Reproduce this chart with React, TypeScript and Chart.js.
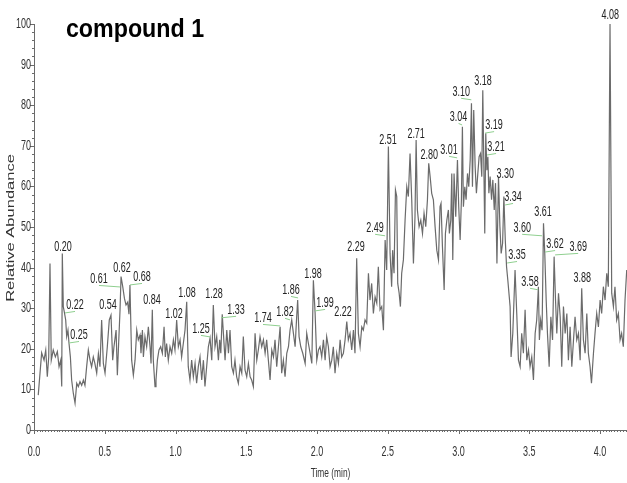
import React, { useEffect, useRef } from "react";
import { Chart, registerables } from "chart.js";

Chart.register(...registerables);

// ---- data (time in min, relative abundance in %) ----
const times = [
  0.03, 0.054, 0.071, 0.083, 0.094, 0.104, 0.113, 0.122, 0.136, 0.151, 0.165, 0.177, 0.189, 0.196, 0.2, 0.207, 0.214, 0.224, 0.231, 0.24,
  0.247, 0.257, 0.266, 0.278, 0.29, 0.302, 0.313, 0.325, 0.337, 0.349, 0.36, 0.372, 0.384, 0.396, 0.407, 0.419, 0.43, 0.443, 0.455, 0.466,
  0.478, 0.49, 0.502, 0.518, 0.532, 0.544, 0.556, 0.565, 0.58, 0.589, 0.598, 0.608, 0.615, 0.627, 0.639, 0.65, 0.662, 0.671,
  0.678, 0.69, 0.702, 0.714, 0.726, 0.737, 0.749, 0.756, 0.766, 0.773, 0.784, 0.796, 0.808, 0.82, 0.827, 0.836, 0.843, 0.855, 0.862, 0.872,
  0.883, 0.895, 0.907, 0.919, 0.928, 0.937, 0.949, 0.961, 0.973, 0.985, 0.996, 1.008, 1.02, 1.032, 1.043, 1.055, 1.067, 1.079, 1.09, 1.102,
  1.114, 1.126, 1.138, 1.149, 1.161, 1.173, 1.185, 1.197, 1.208, 1.22, 1.232, 1.244, 1.256, 1.267, 1.279, 1.291, 1.303, 1.312, 1.32, 1.33,
  1.35, 1.362, 1.374,
  1.385, 1.397, 1.409, 1.42, 1.432, 1.444, 1.456, 1.468, 1.479, 1.491, 1.503, 1.515, 1.527, 1.538, 1.55, 1.562, 1.574, 1.585, 1.597, 1.609,
  1.621, 1.633, 1.644, 1.656, 1.668, 1.68, 1.692, 1.703, 1.715, 1.727, 1.739, 1.75, 1.762, 1.774, 1.786, 1.798, 1.809, 1.821, 1.833, 1.845,
  1.856, 1.863, 1.873, 1.885, 1.899, 1.916, 1.927, 1.939, 1.951, 1.963, 1.974, 1.986, 1.998, 2.01, 2.021, 2.033, 2.045, 2.057, 2.068, 2.08,
  2.092, 2.104, 2.115, 2.127, 2.139, 2.151, 2.163, 2.174, 2.186, 2.198, 2.21, 2.221, 2.233, 2.245, 2.257, 2.268, 2.28, 2.292, 2.304, 2.316,
  2.327, 2.339, 2.351, 2.363, 2.374, 2.386, 2.398, 2.41, 2.422, 2.433, 2.445, 2.457, 2.469, 2.481, 2.492, 2.504, 2.516, 2.527, 2.534, 2.544,
  2.554, 2.563, 2.57, 2.58, 2.589, 2.598, 2.61, 2.622, 2.634, 2.645, 2.657, 2.669, 2.681, 2.692, 2.7, 2.709, 2.721, 2.733, 2.745, 2.756,
  2.768, 2.78, 2.789,
  2.799, 2.81, 2.822, 2.834, 2.846, 2.858, 2.869, 2.876, 2.886, 2.898, 2.907, 2.917, 2.928, 2.935, 2.945, 2.952, 2.959, 2.968, 2.98, 2.992,
  3.001, 3.011, 3.02, 3.027, 3.034, 3.044, 3.053, 3.063, 3.072, 3.082, 3.091, 3.098, 3.107, 3.117, 3.126, 3.136, 3.145, 3.155, 3.164, 3.171,
  3.178, 3.185, 3.192, 3.2, 3.207, 3.214, 3.223, 3.233, 3.242, 3.252, 3.261, 3.271, 3.282, 3.292, 3.301, 3.311, 3.32, 3.33, 3.339, 3.348,
  3.364, 3.371, 3.383, 3.399, 3.411, 3.423, 3.435, 3.446, 3.458, 3.47, 3.482, 3.494, 3.505, 3.517, 3.529, 3.541, 3.552, 3.564, 3.571, 3.58,
  3.59, 3.6, 3.609, 3.619, 3.628, 3.64, 3.652, 3.664, 3.675, 3.685, 3.694, 3.706, 3.718, 3.729, 3.741, 3.753, 3.765, 3.776, 3.788, 3.8,
  3.812, 3.823, 3.835, 3.847, 3.859, 3.87, 3.882, 3.894, 3.906, 3.917, 3.929, 3.939, 3.953, 3.964, 3.976, 3.988, 4.0, 4.011, 4.023, 4.035,
  4.047, 4.058, 4.07, 4.082, 4.094, 4.105, 4.117, 4.129, 4.141, 4.152, 4.164, 4.176, 4.188,
];

const abundance = [
  8.6, 19, 17.2, 19.7, 13.1, 18, 41, 17.2, 19.7, 18, 19.3, 15.6, 17.2, 10.7, 43.5, 30.4, 29.1, 27.1, 23, 24.6,
  21.5, 18, 12.3, 9, 6.6, 11.5, 10.7, 11.9, 11, 12.3, 11, 15.6, 19.7, 17.2, 15.6, 18, 16.4, 14, 18.8, 15.6,
  27.1, 16.4, 14, 20.5, 27.1, 28.3, 17.2, 20.5, 24.6, 13.5, 21.3, 29.6, 37.8, 35.3, 32.4, 30.8, 31.5, 28.5,
  35.7, 17.2, 13.5, 17.2, 24.6, 22.2, 23.4, 18.9, 24.6, 18, 23, 20.5, 25.4, 20.5, 16.4, 29.6, 17.2, 10.7, 12.3, 17.2,
  19.7, 20.5, 18.9, 25.4, 18, 21.3, 17.2, 20.5, 18.9, 22.2, 19.7, 27.1, 20.5, 22.2, 18, 21.3, 24.6, 31.6, 15.6, 12.3,
  17.2, 13.1, 16.4, 11.5, 15.6, 18, 12.3, 17.2, 10.7, 15.6, 20.5, 22.6, 17.2, 30.8, 20.5, 23, 17.2, 22.2, 18.9, 28.5,
  17.2, 24.6, 18.9,
  24.6, 15.6, 14, 17.2, 13.1, 11.5, 15.6, 14, 23, 14.8, 13.1, 16.4, 13.1, 12.3, 10.7, 23.8, 17.2, 19.7, 23, 20.5,
  22.2, 18.9, 22.2, 17.2, 12.3, 19.7, 18, 22.2, 15.6, 20.5, 25.4, 14, 17.2, 13.1, 18.9, 20.5, 24.6, 27.1, 23.8, 20.5,
  27.9, 32, 23, 20.5, 18.9, 16.4, 23.8, 21.3, 18.9, 16.4, 36.9, 29, 17.2, 19.7, 20.5, 18, 22.2, 17.2, 23, 20.5,
  15.6, 17.2, 20.5, 14, 18.9, 16.4, 22.2, 18, 18.9, 22.2, 26.7, 22.2, 23.8, 19.7, 24.6, 18.9, 42.3, 23.8, 20.5, 25.4,
  24.6, 27.1, 26.3, 38.6, 32, 36.1, 28.7, 32.8, 31.2, 40.2, 29.6, 30.4, 24.6, 46.8, 39.4, 69.8, 43.5, 35.3, 44.3, 38.6,
  59.1, 57.5, 36.1, 33.7, 30.4, 38.6, 41.9, 51.7, 59.9, 57.5, 68.1, 56.7, 41, 52.5, 71.4, 54.2, 50.1, 51.7, 48.4, 53.4,
  50.1, 56.7, 65.7,
  62.4, 58.3, 56.7, 50.1, 44.3, 41.9, 55, 55.8, 45.1, 34.5, 48.4, 51.7, 54.2, 48.4, 51.7, 63.2, 41.9, 63.2, 52.5, 66.5,
  55, 46.8, 56.7, 74.7, 55, 59.9, 56.7, 63.2, 59.9, 66.5, 80.5, 59.9, 78.8, 64.9, 58.3, 63.2, 67.3, 68.1, 62.4, 83.7,
  66.5, 48.4, 73.1, 64, 67.3, 58.3, 62.4, 56.7, 61.6, 54.2, 60.8, 41, 62.4, 50.1, 43.5, 46, 57.5, 46.8, 40.2, 36.9,
  30.4, 18, 23.8, 39.4, 28.7, 17.2, 15.6, 23.8, 18.9, 29.6, 17.2, 19.7, 15.6, 18, 12.3, 23.8, 27.1, 35.3, 22.2, 27.1,
  24.6, 50.9, 43.5, 32, 23.8, 15.6, 27.9, 22.2, 42.7, 32, 23.8, 33.7, 27.9, 15.6, 30.4, 23.8, 28.7, 17.2, 25.4, 15.6,
  22.2, 27.9, 22.2, 23.8, 17.2, 34.9, 22.2, 18.9, 28.7, 18.9, 15.6, 11.5, 18.9, 23.8, 28.7, 25.4, 32, 28.7, 35.3, 32,
  38.6, 35.3, 100, 33.7, 30.4, 35.3, 27.1, 28.7, 22.2, 23.8, 20.5, 32, 39.4,
];

const xTickValues = [0, 0.5, 1.0, 1.5, 2.0, 2.5, 3.0, 3.5, 4.0];
const yTickValues = [0, 10, 20, 30, 40, 50, 60, 70, 80, 90, 100];

const chartTitle = "compound 1";
const xAxisTitle = "Time (min)";
const yAxisTitle = "Relative Abundance";

// peak annotations: label text, label centre (time, abundance), leader target time (or null)
const peakLabels = [
  "0.20", "0.22", "0.25", "0.54", "0.61", "0.62", "0.68", "0.84", "1.02", "1.08",
  "1.25", "1.28", "1.33", "1.74", "1.82", "1.86", "1.98", "1.99", "2.22", "2.29",
  "2.49", "2.51", "2.71", "2.80", "3.01", "3.04", "3.10", "3.18", "3.19", "3.21",
  "3.30", "3.34", "3.35", "3.58", "3.60", "3.61", "3.62", "3.69", "3.88", "4.08",
];
const labelTimes = [
  0.205, 0.29, 0.318, 0.523, 0.459, 0.622, 0.763, 0.834, 0.989, 1.081,
  1.18, 1.272, 1.428, 1.618, 1.774, 1.816, 1.972, 2.057, 2.184, 2.276,
  2.41, 2.502, 2.7, 2.792, 2.933, 3.0, 3.018, 3.173, 3.251, 3.265,
  3.329, 3.385, 3.413, 3.505, 3.449, 3.597, 3.682, 3.845, 3.873, 4.071,
];
const labelLevels = [
  45.1, 30.8, 23.4, 30.8, 37.2, 39.9, 37.7, 32, 28.6, 33.7,
  24.9, 33.5, 29.6, 27.6, 29.1, 34.5, 38.4, 31.3, 29.1, 45.1,
  49.8, 71.4, 72.9, 67.7, 69, 77.1, 83.3, 86, 75.1, 69.7,
  63.1, 57.4, 43.1, 36.5, 49.8, 53.7, 45.8, 45.1, 37.4, 102.2,
];
const leaderTargets: (number | null)[] = [
  null, 0.219, 0.247, null, 0.608, null, 0.678, null, null, null,
  1.244, null, 1.322, 1.739, 1.809, 1.866, null, 1.986, null, null,
  2.481, null, null, null, 2.99, 3.025, 3.09, null, 3.187, 3.201,
  null, 3.329, 3.343, 3.562, 3.59, null, 3.611, 3.682, null, null,
];

const FONT = '"Liberation Sans", Arial, Helvetica, sans-serif';
const SQUEEZE = 0.62;

function squeezedText(
  ctx: CanvasRenderingContext2D,
  text: string,
  x: number,
  y: number,
  size: number,
  sx: number,
  align: CanvasTextAlign,
  weight = "normal"
) {
  ctx.save();
  ctx.translate(x, y);
  ctx.scale(sx, 1);
  ctx.font = `${weight} ${size}px ${FONT}`;
  ctx.textAlign = align;
  ctx.textBaseline = "middle";
  ctx.fillText(text, 0, 0);
  ctx.restore();
}

const chromPlugin = {
  id: "chromDecor",
  afterDraw(chart: any) {
    const ctx: CanvasRenderingContext2D = chart.ctx;
    const { left, right, top, bottom } = chart.chartArea;
    const xs = chart.scales.x;
    const ys = chart.scales.y;

    ctx.save();
    // axes
    ctx.strokeStyle = "#6a6a6a";
    ctx.lineWidth = 1;
    ctx.beginPath();
    ctx.moveTo(left + 0.5, top);
    ctx.lineTo(left + 0.5, bottom + 0.5);
    ctx.lineTo(right, bottom + 0.5);
    ctx.stroke();

    // y ticks (minor every 2)
    ctx.beginPath();
    for (let i = 0; i <= 50; i++) {
      const v = i * 2;
      const py = Math.round(ys.getPixelForValue(v)) + 0.5;
      const len = i % 5 === 0 ? 4 : 2;
      ctx.moveTo(left - len, py);
      ctx.lineTo(left, py);
    }
    // x ticks (minor every 0.02)
    const xmax = xs.max;
    for (let i = 0; i * 0.02 <= xmax + 1e-9; i++) {
      const px = Math.round(xs.getPixelForValue(i * 0.02)) + 0.5;
      const len = i % 25 === 0 ? 4 : 2;
      ctx.moveTo(px, bottom);
      ctx.lineTo(px, bottom + len);
    }
    ctx.stroke();

    // tick labels
    ctx.fillStyle = "#333";
    yTickValues.forEach((v) => {
      squeezedText(ctx, String(v), left - 3, ys.getPixelForValue(v), 14.5, SQUEEZE, "right");
    });
    xTickValues.forEach((t) => {
      squeezedText(ctx, t.toFixed(1), xs.getPixelForValue(t), bottom + 22, 14.5, SQUEEZE, "center");
    });

    // axis titles
    squeezedText(ctx, xAxisTitle, (left + right) / 2, bottom + 43, 13.5, SQUEEZE, "center");
    ctx.save();
    ctx.translate(11, 228);
    ctx.rotate(-Math.PI / 2);
    ctx.scale(1, SQUEEZE);
    ctx.font = `16.5px ${FONT}`;
    ctx.textAlign = "center";
    ctx.textBaseline = "middle";
    ctx.fillText(yAxisTitle, 0, 0);
    ctx.restore();

    // chart title
    ctx.fillStyle = "#000";
    squeezedText(ctx, chartTitle, 135, 30, 25, 0.93, "center", "bold");

    // peak labels + leaders
    peakLabels.forEach((lab, i) => {
      const lx = xs.getPixelForValue(labelTimes[i]);
      const ly = ys.getPixelForValue(labelLevels[i]);
      const target = leaderTargets[i];
      if (target !== null) {
        const tx = xs.getPixelForValue(target);
        ctx.strokeStyle = "#8fcf8f";
        ctx.lineWidth = 1;
        ctx.beginPath();
        ctx.moveTo(lx, ly + 6.5);
        ctx.lineTo(tx, ly + 8);
        ctx.stroke();
      }
      ctx.fillStyle = "#222";
      squeezedText(ctx, lab, lx, ly, 14.5, SQUEEZE, "center");
    });
    ctx.restore();
  },
};

export default function App() {
  const canvasRef = useRef<HTMLCanvasElement | null>(null);

  useEffect(() => {
    if (!canvasRef.current) return;
    const points = times.map((t, i) => ({ x: t, y: abundance[i] }));
    const chart = new Chart(canvasRef.current, {
      type: "line",
      data: {
        datasets: [
          {
            data: points,
            borderColor: "#6b6b6b",
            borderWidth: 1.2,
            pointRadius: 0,
            tension: 0,
            fill: false,
            clip: false as any,
          },
        ],
      },
      options: {
        animation: false,
        responsive: false,
        devicePixelRatio: 1,
        parsing: false as any,
        layout: { padding: { left: 34, right: 0, top: 24, bottom: 53 } },
        plugins: { legend: { display: false }, tooltip: { enabled: false } },
        scales: {
          x: { type: "linear", min: 0, max: 4.19, display: false },
          y: { type: "linear", min: 0, max: 100, display: false },
        },
      },
      plugins: [chromPlugin],
    });
    return () => chart.destroy();
  }, []);

  return (
    <div style={{ position: "absolute", left: 0, top: 0, width: 627, height: 483, background: "#fff" }}>
      <canvas ref={canvasRef} width={627} height={483} />
    </div>
  );
}
